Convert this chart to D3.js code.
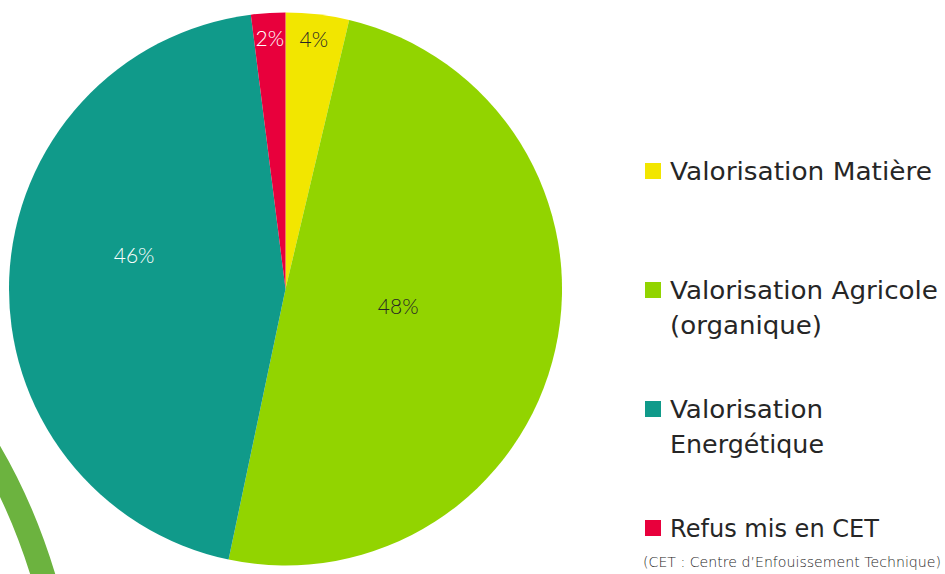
<!DOCTYPE html>
<html>
<head>
<meta charset="utf-8">
<script src="https://cdn.jsdelivr.net/npm/d3@7"></script>
<style>
  body { margin: 0; background: #fff; }
  svg { display: block; }
  .lbl { font-family: Lato, "DejaVu Sans", sans-serif; font-weight: 300; }
  .leg { font-family: "DejaVu Sans", sans-serif; fill: #262626; }
</style>
</head>
<body>
<svg id="chart" width="945" height="574"></svg>
<script>
// slice shares as drawn (labels shown are the rounded ones from the source)
const categories = ['Valorisation Matière', 'Valorisation Agricole (organique)', 'Valorisation Energétique', 'Refus mis en CET'];
const values = [3.7, 49.6, 44.7, 2.0];
const sliceLabels = ['4%', '48%', '46%', '2%'];
const colors = ['#f2e600', '#92d400', '#109a8a', '#e8003c'];
const labelColors = ['#262626', '#262626', '#ffffff', '#ffffff'];

// legend text, one entry per line
const legendLines = [
    ['Valorisation Matière'],
    ['Valorisation Agricole', '(organique)'],
    ['Valorisation', 'Energétique'],
    ['Refus mis en CET']
];
const legendWidths = [
    [262],
    [268, 152],
    [153, 154],
    [209]
];
const footnote = '(CET : Centre d\u2019Enfouissement Technique)';

const svg = d3.select('#chart');
const cx = 285.5, cy = 289, R = 276.5;

// decorative green stroke, bottom left
const deco = d3.path();
deco.moveTo(-32, 418);
deco.quadraticCurveTo(20, 492, 48, 592);
svg.append('path')
    .attr('d', deco.toString())
    .attr('fill', 'none')
    .attr('stroke', '#6cb33f')
    .attr('stroke-width', 24);

const pie = d3.pie().sort(null).value(d => d);
const arcs = pie(values);
const arc = d3.arc().innerRadius(0).outerRadius(R);

const g = svg.append('g').attr('transform', `translate(${cx},${cy})`);

g.selectAll('path.slice')
    .data(arcs)
    .enter()
    .append('path')
    .attr('class', 'slice')
    .attr('d', arc)
    .attr('fill', (d, i) => colors[i]);

// label placement: radius and angle nudge (degrees) per slice
const labelRadius = [251, 114, 155, 251];
const labelNudge = [-0.2, -4, 10, 0];

g.selectAll('text.lbl')
    .data(arcs)
    .enter()
    .append('text')
    .attr('class', 'lbl')
    .attr('transform', (d, i) => {
        const a = (d.startAngle + d.endAngle) / 2 + labelNudge[i] * Math.PI / 180;
        const r = labelRadius[i];
        return `translate(${r * Math.sin(a)},${-r * Math.cos(a)})`;
    })
    .attr('text-anchor', 'middle')
    .attr('dy', '0.36em')
    .attr('font-size', 21)
    .attr('fill', (d, i) => labelColors[i])
    .text((d, i) => sliceLabels[i]);

// legend
const legY = d3.scaleLinear().domain([0, 3]).range([180, 537]);
const lineGap = 34.5;
const legend = svg.append('g');

categories.forEach((c, i) => {
    const y = legY(i);
    legend.append('rect')
        .attr('x', 645)
        .attr('y', y - 17)
        .attr('width', 16)
        .attr('height', 16)
        .attr('fill', colors[i]);
    legendLines[i].forEach((line, j) => {
        legend.append('text')
            .attr('class', 'leg')
            .attr('x', 670)
            .attr('y', y + j * lineGap)
            .attr('font-size', 24)
            .attr('textLength', legendWidths[i][j])
            .attr('lengthAdjust', 'spacingAndGlyphs')
            .text(line);
    });
});

legend.append('text')
    .attr('class', 'leg')
    .attr('x', 643)
    .attr('y', 567)
    .attr('font-size', 14)
    .attr('font-weight', 300)
    .attr('fill', '#404040')
    .attr('textLength', 298)
    .attr('lengthAdjust', 'spacingAndGlyphs')
    .text(footnote);
</script>
</body>
</html>
